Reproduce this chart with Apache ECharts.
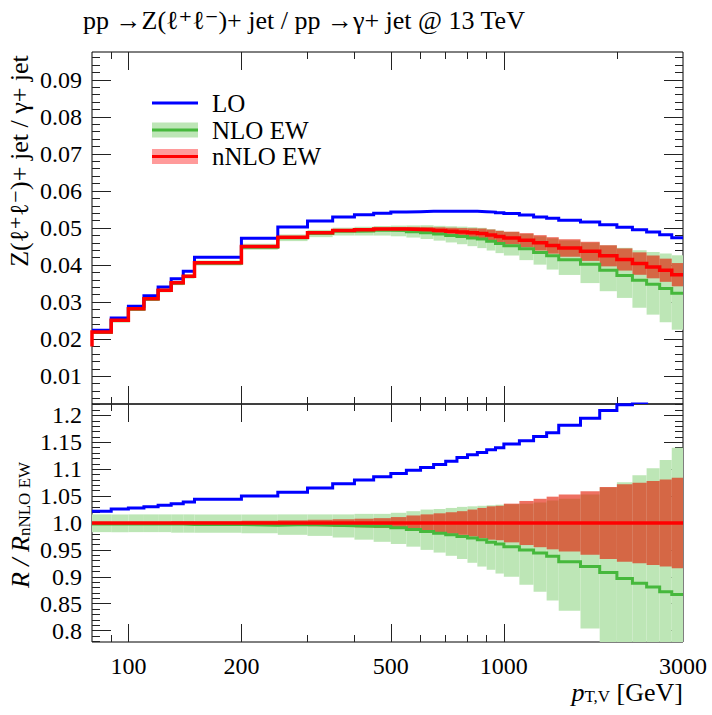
<!DOCTYPE html>
<html><head><meta charset="utf-8">
<script src="https://cdn.jsdelivr.net/npm/echarts@6/dist/echarts.min.js"></script>
<style>html,body{margin:0;padding:0;background:#fff}#c{width:712px;height:715px}</style>
</head><body><div id="c"></div>
<script>
// ---------------- data ----------------
const binEdges = [80,90,100,110,120,130,140,150,200,250,300,350,400,450,500,550,600,650,700,750,800,850,900,950,1000,1100,1200,1300,1400,1600,1800,2000,2200,2400,2600,2800,3000];

const loValues = [0.0224,0.0257,0.0289,0.0317,0.0341,0.0363,0.0383,0.0421,0.0472,0.0503,0.0519,0.0530,0.0536,0.0540,0.0543,0.0544,0.0545,0.0545,0.0545,0.0545,0.0545,0.0544,0.0543,0.0541,0.0539,0.0535,0.0530,0.0526,0.0521,0.0516,0.0509,0.0502,0.0495,0.0489,0.0482,0.0474];
const nloValues = [0.0218,0.0250,0.0281,0.0308,0.0331,0.0351,0.0369,0.0405,0.0448,0.0474,0.0485,0.0491,0.0492,0.0494,0.0493,0.0490,0.0487,0.0484,0.0480,0.0477,0.0473,0.0470,0.0464,0.0458,0.0452,0.0444,0.0434,0.0425,0.0414,0.0402,0.0386,0.0372,0.0359,0.0348,0.0337,0.0324];
const nnloValues = [0.0219,0.0251,0.0282,0.0309,0.0332,0.0352,0.0370,0.0406,0.0450,0.0475,0.0487,0.0493,0.0495,0.0497,0.0497,0.0496,0.0495,0.0493,0.0491,0.0489,0.0487,0.0485,0.0481,0.0477,0.0473,0.0467,0.0460,0.0453,0.0446,0.0437,0.0425,0.0415,0.0404,0.0395,0.0386,0.0374];
const nnloUnderflow = 0.0180;

const nloBandLow  = [0.02153,0.02467,0.02772,0.03037,0.03264,0.03457,0.03633,0.03987,0.04415,0.04646,0.04753,0.04797,0.04797,0.04796,0.04776,0.04742,0.04703,0.04659,0.04610,0.04562,0.04510,0.04457,0.04392,0.04322,0.04257,0.04133,0.04011,0.03878,0.03733,0.03513,0.03294,0.03113,0.02848,0.02662,0.02455,0.02255];
const nloBandHigh = [0.02225,0.02550,0.02865,0.03139,0.03373,0.03576,0.03759,0.04125,0.04572,0.04826,0.04948,0.05009,0.05034,0.05054,0.05064,0.05069,0.05074,0.05058,0.05047,0.05037,0.05021,0.05005,0.04969,0.04932,0.04896,0.04838,0.04775,0.04720,0.04661,0.04602,0.04531,0.04465,0.04400,0.04353,0.04312,0.04264];
const nnloBandLow  = [0.02186,0.02505,0.02814,0.03084,0.03313,0.03509,0.03689,0.04048,0.04482,0.04726,0.04841,0.04895,0.04910,0.04925,0.04915,0.04891,0.04871,0.04841,0.04812,0.04782,0.04748,0.04714,0.04661,0.04617,0.04560,0.04479,0.04393,0.04308,0.04224,0.04112,0.03965,0.03851,0.03737,0.03642,0.03547,0.03426];
const nnloBandHigh = [0.02194,0.02515,0.02826,0.03096,0.03327,0.03531,0.03711,0.04072,0.04518,0.04774,0.04899,0.04965,0.04990,0.05015,0.05025,0.05029,0.05029,0.05019,0.05008,0.04998,0.04992,0.04986,0.04959,0.04923,0.04900,0.04861,0.04807,0.04752,0.04696,0.04628,0.04535,0.04449,0.04343,0.04258,0.04173,0.04054];

const loRatio  = [1.022,1.026,1.028,1.030,1.033,1.036,1.039,1.044,1.050,1.057,1.065,1.073,1.080,1.086,1.092,1.098,1.103,1.109,1.115,1.122,1.127,1.131,1.136,1.140,1.147,1.153,1.161,1.168,1.182,1.195,1.209,1.220,1.224,1.240,1.250,1.265];
const nloRatio = [0.998,0.998,0.998,0.998,0.998,0.998,0.997,0.997,0.996,0.997,0.996,0.995,0.994,0.994,0.991,0.988,0.984,0.981,0.978,0.975,0.972,0.969,0.964,0.961,0.956,0.950,0.944,0.938,0.928,0.919,0.908,0.897,0.888,0.881,0.872,0.867];
const nnloRatio = [1,1,1,1,1,1,1,1,1,1,1,1,1,1,1,1,1,1,1,1,1,1,1,1,1,1,1,1,1,1,1,1,1,1,1,1];
const nloRatioBandLow  = [0.983,0.983,0.983,0.983,0.983,0.982,0.982,0.982,0.981,0.978,0.976,0.973,0.969,0.965,0.961,0.956,0.950,0.945,0.939,0.933,0.926,0.919,0.913,0.906,0.900,0.885,0.872,0.856,0.837,0.804,0.775,0.750,0.705,0.674,0.636,0.603];
const nloRatioBandHigh = [1.016,1.016,1.016,1.016,1.016,1.016,1.016,1.016,1.016,1.016,1.016,1.016,1.017,1.017,1.019,1.022,1.025,1.026,1.028,1.030,1.031,1.032,1.033,1.034,1.035,1.036,1.038,1.042,1.045,1.053,1.066,1.076,1.089,1.102,1.117,1.140];
const nnloRatioBandLow  = [0.998,0.998,0.998,0.998,0.998,0.997,0.997,0.997,0.996,0.995,0.994,0.993,0.992,0.991,0.989,0.986,0.984,0.982,0.980,0.978,0.975,0.972,0.969,0.968,0.964,0.959,0.955,0.951,0.947,0.941,0.933,0.928,0.925,0.922,0.919,0.916];
const nnloRatioBandHigh = [1.002,1.002,1.002,1.002,1.002,1.003,1.003,1.003,1.004,1.005,1.006,1.007,1.008,1.009,1.011,1.014,1.016,1.018,1.020,1.022,1.025,1.028,1.031,1.032,1.036,1.041,1.045,1.049,1.053,1.059,1.067,1.072,1.075,1.078,1.081,1.084];

const xMajorTicks = [100,200,500,1000];
const xMinorTicks = [90,300,400,600,700,800,900,2000];
const xTickLabels = [100,200,500,1000,3000];
const upperTickLabels = [0.01,0.02,0.03,0.04,0.05,0.06,0.07,0.08,0.09];
const lowerTickLabels = [0.8,0.85,0.9,0.95,1.0,1.05,1.1,1.15,1.2];
const lowerTickText = ['0.8','0.85','0.9','0.95','1.0','1.05','1.1','1.15','1.2'];

// ---------------- style ----------------
const FONT = "'Liberation Serif','DejaVu Serif',serif";
const C_LO = '#0000ff', C_NLO = '#46b83c', C_NNLO = '#ff0000';
const C_NLO_BAND = '#bde6b6', C_NNLO_BAND = 'rgba(228,25,0,0.62)', C_NNLO_LEG = '#ff9a9a';
const X_MIN = 80, X_MAX = 3000;
const UP = {min: 0.0025, max: 0.0975};
const LOW = {min: 0.7787, max: 1.2213};

// ---------------- helpers ----------------
function steps(vals, start) {
  const pts = [];
  if (start !== undefined) pts.push([binEdges[0], start]);
  for (let i = 0; i < vals.length; i++) {
    pts.push([binEdges[i], vals[i]], [binEdges[i + 1], vals[i]]);
  }
  return pts;
}
function boxes(lo, hi) {
  return lo.map((v, i) => [binEdges[i], binEdges[i + 1], v, hi[i]]);
}
function bandRender(color) {
  return function (params, api) {
    const p0 = api.coord([api.value(0), api.value(3)]);
    const p1 = api.coord([api.value(1), api.value(2)]);
    const cs = params.coordSys;
    const shape = echarts.graphic.clipRectByRect(
      {x: p0[0], y: p0[1], width: p1[0] - p0[0], height: p1[1] - p0[1]},
      {x: cs.x, y: cs.y, width: cs.width, height: cs.height});
    return shape && {type: 'rect', shape: shape, style: {fill: color}};
  };
}
function minorList(from, to, step, scale) {
  const out = [];
  for (let k = from; k <= to; k += step) out.push(k / scale);
  return out;
}
const tickStyle = {color: '#222', width: 1};

function xAxes(gi, withLabels) {
  const base = {type: 'log', logBase: 10, gridIndex: gi, min: X_MIN, max: X_MAX,
    axisLine: {show: false}, splitLine: {show: false}, minorTick: {show: false}};
  const lab = {show: false};
  return [
    Object.assign({}, base, {position: 'bottom',
      axisTick: {show: true, inside: true, length: 18, customValues: xMajorTicks, lineStyle: tickStyle},
      axisLabel: withLabels ? {show: true, customValues: xTickLabels, margin: 12, fontSize: 24, fontFamily: FONT, color: '#000',
        formatter: v => String(Math.round(v))} : lab}),
    Object.assign({}, base, {position: 'bottom',
      axisTick: {show: true, inside: true, length: 7, customValues: xMinorTicks, lineStyle: tickStyle}, axisLabel: lab}),
    Object.assign({}, base, {position: 'top',
      axisTick: {show: true, inside: true, length: 18, customValues: xMajorTicks, lineStyle: tickStyle}, axisLabel: lab}),
    Object.assign({}, base, {position: 'top',
      axisTick: {show: true, inside: true, length: 7, customValues: xMinorTicks, lineStyle: tickStyle}, axisLabel: lab})
  ];
}
function yAxes(gi, rng, majors, minors, formatter) {
  const base = {type: 'value', gridIndex: gi, min: rng.min, max: rng.max,
    axisLine: {show: false}, splitLine: {show: false}};
  const lab = {show: false};
  return [
    Object.assign({}, base, {position: 'left',
      axisTick: {show: true, inside: true, length: 19, customValues: majors, lineStyle: tickStyle},
      axisLabel: {show: true, customValues: majors, margin: 10, fontSize: 24, fontFamily: FONT, color: '#000', formatter: formatter}}),
    Object.assign({}, base, {position: 'left',
      axisTick: {show: true, inside: true, length: 8, customValues: minors, lineStyle: tickStyle}, axisLabel: lab}),
    Object.assign({}, base, {position: 'right',
      axisTick: {show: true, inside: true, length: 19, customValues: majors, lineStyle: tickStyle}, axisLabel: lab}),
    Object.assign({}, base, {position: 'right',
      axisTick: {show: true, inside: true, length: 8, customValues: minors, lineStyle: tickStyle}, axisLabel: lab})
  ];
}

function lineSeries(xi, yi, pts, color, width, z) {
  return {type: 'line', xAxisIndex: xi, yAxisIndex: yi, data: pts, showSymbol: false, symbol: 'none',
    lineStyle: {color: color, width: width, join: 'miter'}, clip: true, z: z, silent: true, animation: false};
}
function bandSeries(xi, yi, data, color, z) {
  return {type: 'custom', xAxisIndex: xi, yAxisIndex: yi, data: data, renderItem: bandRender(color),
    encode: {x: [0, 1], y: [2, 3]}, z: z, silent: true, animation: false};
}

const upperFmt = v => String(+v.toFixed(3));
const lowerFmt = v => {
  const i = lowerTickLabels.findIndex(t => Math.abs(t - v) < 1e-9);
  return i >= 0 ? lowerTickText[i] : String(v);
};

const option = {
  animation: false,
  backgroundColor: '#fff',
  grid: [
    {left: 92, top: 52, width: 591, height: 352, show: true, borderColor: '#000', borderWidth: 1, backgroundColor: 'transparent'},
    {left: 92, top: 404, width: 591, height: 238, show: true, borderColor: '#000', borderWidth: 1, backgroundColor: 'transparent'}
  ],
  xAxis: [].concat(xAxes(0, false), xAxes(1, true)),
  yAxis: [].concat(
    yAxes(0, UP, upperTickLabels, minorList(2, 48, 1, 500), upperFmt),
    yAxes(1, LOW, lowerTickLabels, minorList(78, 122, 1, 100), lowerFmt)),
  series: [
    bandSeries(0, 0, boxes(nloBandLow, nloBandHigh), C_NLO_BAND, 1),
    bandSeries(0, 0, boxes(nnloBandLow, nnloBandHigh), C_NNLO_BAND, 2),
    lineSeries(0, 0, steps(nloValues), C_NLO, 3, 3),
    lineSeries(0, 0, steps(loValues), C_LO, 3, 4),
    lineSeries(0, 0, steps(nnloValues, nnloUnderflow), C_NNLO, 3.5, 5),
    bandSeries(4, 4, boxes(nloRatioBandLow, nloRatioBandHigh), C_NLO_BAND, 1),
    bandSeries(4, 4, boxes(nnloRatioBandLow, nnloRatioBandHigh), C_NNLO_BAND, 2),
    lineSeries(4, 4, steps(nloRatio), C_NLO, 3, 3),
    lineSeries(4, 4, steps(loRatio), C_LO, 3, 4),
    lineSeries(4, 4, steps(nnloRatio), C_NNLO, 3.5, 5)
  ],
  graphic: [
    {type: 'text', left: 83, top: 7, style: {text: 'pp →Z(ℓ⁺ℓ⁻)+ jet / pp →γ+ jet @ 13 TeV', font: '26px ' + FONT, fill: '#000'}},
    {type: 'text', x: 19, y: 161, rotation: Math.PI / 2,
      style: {text: 'Z(ℓ⁺ℓ⁻)+ jet / γ+ jet', font: '26px ' + FONT, fill: '#000', align: 'center', verticalAlign: 'middle'}},
    {type: 'text', x: 16, y: 525, rotation: Math.PI / 2,
      style: {text: '{m|R / R}{s|nNLO EW}', align: 'center', verticalAlign: 'middle', fill: '#000',
        rich: {m: {fontSize: 26, fontFamily: FONT, fontStyle: 'italic', lineHeight: 34, verticalAlign: 'bottom'},
               s: {fontSize: 17, fontFamily: FONT, lineHeight: 18, verticalAlign: 'bottom'}}}},
    {type: 'text', x: 683, y: 690,
      style: {text: '{m|p}{s|T,V}{n| [GeV]}', align: 'right', verticalAlign: 'middle', fill: '#000',
        rich: {m: {fontSize: 26, fontFamily: FONT, fontStyle: 'italic', lineHeight: 30, verticalAlign: 'bottom'},
               s: {fontSize: 17, fontFamily: FONT, lineHeight: 16, verticalAlign: 'bottom'},
               n: {fontSize: 26, fontFamily: FONT, lineHeight: 30, verticalAlign: 'bottom'}}}},
    // legend
    {type: 'line', shape: {x1: 152, y1: 103, x2: 198, y2: 103}, style: {stroke: C_LO, lineWidth: 3}},
    {type: 'text', x: 212, y: 103, style: {text: 'LO', font: '25px ' + FONT, fill: '#000', verticalAlign: 'middle'}},
    {type: 'rect', shape: {x: 152, y: 122.5, width: 46, height: 15}, style: {fill: C_NLO_BAND}},
    {type: 'line', shape: {x1: 152, y1: 130, x2: 198, y2: 130}, style: {stroke: C_NLO, lineWidth: 3}},
    {type: 'text', x: 212, y: 130, style: {text: 'NLO EW', font: '25px ' + FONT, fill: '#000', verticalAlign: 'middle'}},
    {type: 'rect', shape: {x: 152, y: 149, width: 46, height: 15}, style: {fill: C_NNLO_LEG}},
    {type: 'line', shape: {x1: 152, y1: 156.5, x2: 198, y2: 156.5}, style: {stroke: C_NNLO, lineWidth: 3}},
    {type: 'text', x: 212, y: 156.5, style: {text: 'nNLO EW', font: '25px ' + FONT, fill: '#000', verticalAlign: 'middle'}}
  ]
};

const chart = echarts.init(document.getElementById('c'), null, {renderer: 'svg'});
chart.setOption(option);
</script>
</body></html>
